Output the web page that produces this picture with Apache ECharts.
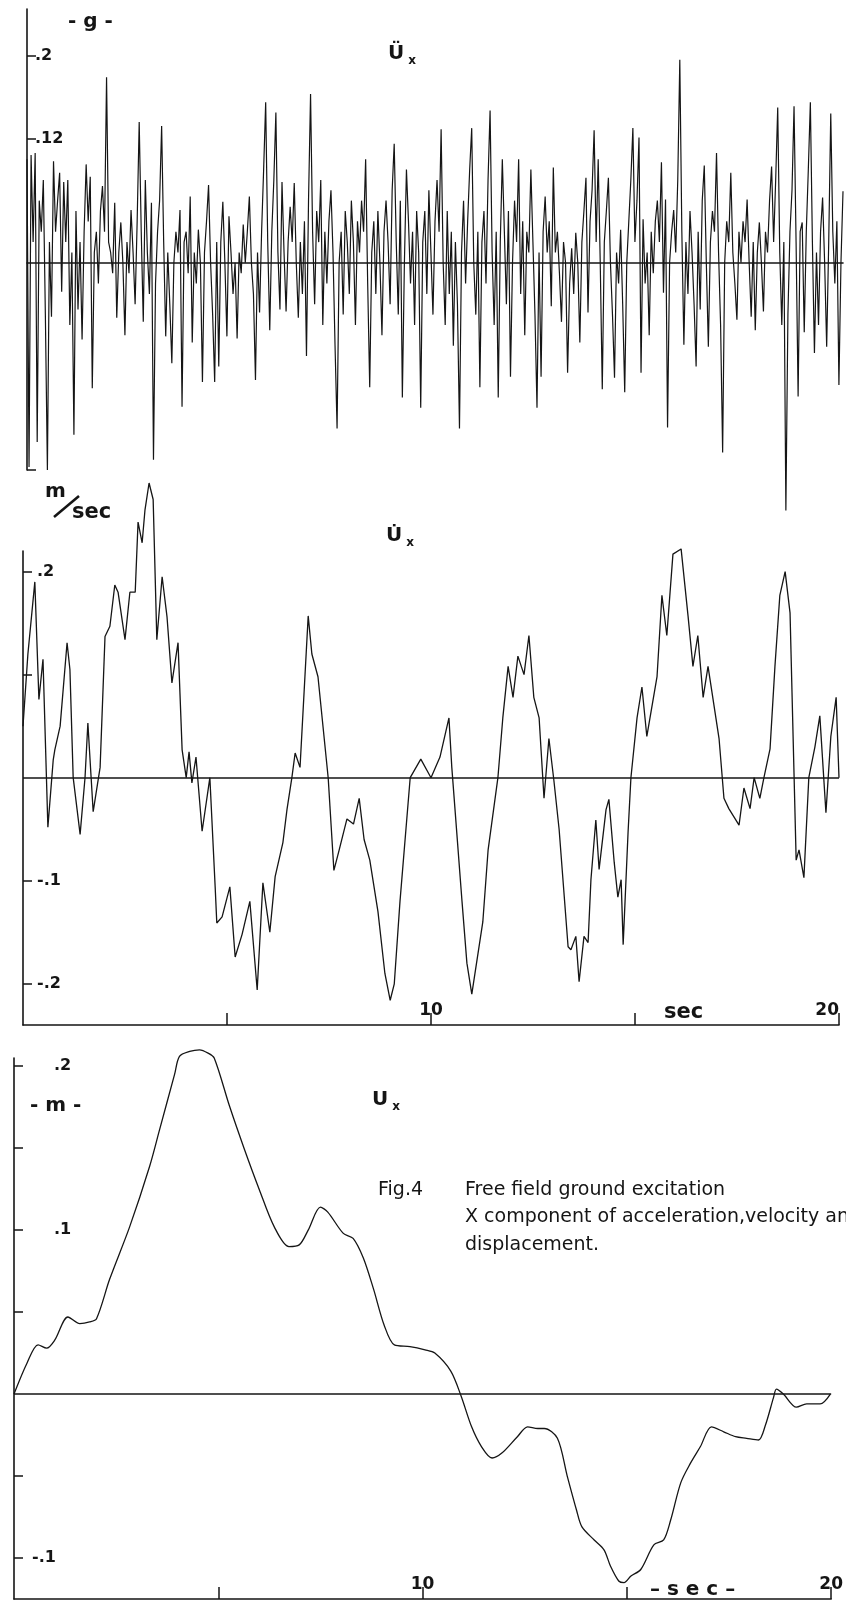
<!DOCTYPE html>
<html>
<head>
<meta charset="utf-8">
<script src="https://cdn.jsdelivr.net/npm/echarts@6/dist/echarts.min.js"></script>
<style>
html, body { margin: 0; padding: 0; background: #fff; }
#main { width: 846px; height: 1610px; }
</style>
</head>
<body>
<div id="main"></div>
<script>
// X acceleration, one value every 0.05 s (g)
var accStep = 0.05;
var accel = [
    0.10,-0.197,0.104,0.02,0.106,-0.173,0.06,0.03,0.08,-0.05,-0.2,0.02,-0.052,0.098,0.03,0.06,0.087,-0.028,0.078,0.02,
    0.08,-0.06,0.01,-0.166,0.05,-0.045,0.02,-0.074,0.03,0.095,0.04,0.083,-0.121,0.01,0.03,-0.02,0.05,0.074,0.03,0.179,
    0.02,0.01,-0.01,0.058,-0.053,0.01,0.039,0.0,-0.07,0.02,-0.01,0.051,0.01,-0.04,0.04,0.136,0.03,-0.057,0.08,0.01,
    -0.03,0.058,-0.19,-0.02,0.03,0.06,0.132,0.02,-0.071,0.01,-0.04,-0.097,0.0,0.03,0.01,0.051,-0.139,0.02,0.03,-0.01,
    0.064,-0.077,0.01,-0.02,0.032,0.0,-0.115,0.01,0.04,0.075,0.0,-0.05,-0.115,0.02,-0.1,0.02,0.059,0.0,-0.071,0.045,
    0.01,-0.03,0.0,-0.073,0.01,-0.01,0.037,0.0,0.03,0.064,0.0,-0.03,-0.113,0.01,-0.048,0.03,0.09,0.155,0.02,-0.065,
    0.03,0.08,0.145,0.01,-0.045,0.078,0.01,-0.047,0.02,0.054,0.02,0.077,0.0,-0.053,0.02,-0.03,0.04,-0.09,0.06,0.163,
    0.03,-0.04,0.05,0.02,0.08,-0.06,0.03,-0.02,0.04,0.07,0.01,-0.08,-0.16,0.0,0.03,-0.05,0.05,0.02,-0.03,0.06,
    0.02,-0.06,0.04,0.01,0.06,0.03,0.10,-0.02,-0.12,0.01,0.04,-0.03,0.05,0.0,-0.07,0.03,0.06,0.02,-0.04,0.07,
    0.115,0.02,-0.05,0.06,-0.13,0.0,0.09,0.04,-0.02,0.03,-0.06,0.05,0.01,-0.14,0.02,0.05,-0.03,0.07,0.01,-0.05,
    0.04,0.08,0.03,0.129,0.0,-0.06,0.05,-0.03,0.03,-0.08,0.02,-0.04,-0.16,0.01,0.06,-0.02,0.04,0.09,0.13,0.0,
    -0.05,0.03,-0.12,0.02,0.05,-0.02,0.08,0.147,0.01,-0.06,0.03,-0.13,0.02,0.10,0.03,-0.04,0.05,-0.11,0.0,0.06,
    0.02,0.10,-0.03,0.04,-0.07,0.03,0.01,0.09,0.02,-0.05,-0.14,0.01,-0.11,0.03,0.064,0.01,0.04,-0.042,0.092,0.01,
    0.03,-0.01,-0.057,0.02,0.0,-0.106,-0.02,0.014,-0.03,0.029,0.0,-0.077,0.02,0.05,0.082,-0.048,0.04,0.07,0.128,0.02,
    0.1,0.0,-0.122,0.02,0.05,0.082,0.0,-0.05,-0.111,0.01,-0.02,0.032,-0.04,-0.125,0.0,0.04,0.08,0.13,0.02,0.06,
    0.121,-0.106,0.042,-0.02,0.01,-0.07,0.03,-0.01,0.04,0.06,0.02,0.097,-0.029,0.061,-0.159,0.0,0.03,0.051,0.01,0.08,
    0.196,0.03,-0.079,0.02,-0.03,0.05,0.01,-0.04,-0.1,0.03,-0.045,0.06,0.094,0.0,-0.081,0.02,0.05,0.03,0.106,0.01,
    -0.06,-0.183,0.0,0.04,0.02,0.087,0.01,-0.02,-0.055,0.03,0.0,0.04,0.02,0.061,0.0,-0.052,0.02,-0.065,0.01,0.039,
    0.0,-0.047,0.03,0.01,0.06,0.093,0.02,0.08,0.15,0.01,-0.06,0.02,-0.239,-0.05,0.03,0.07,0.151,0.02,-0.129,0.03,
    0.039,-0.067,0.03,0.09,0.155,0.02,-0.087,0.01,-0.06,0.03,0.063,0.0,-0.081,0.02,0.144,0.03,-0.02,0.04,-0.118,0.0,
    0.069
];

// X velocity [sec, m/sec]
var velPts = [
    [0,0.05],[0.12,0.12],[0.29,0.19],[0.39,0.076],[0.49,0.115],[0.61,-0.048],[0.74,0.017],[0.78,0.027],
    [0.91,0.05],[1.08,0.131],[1.15,0.105],[1.23,0.0],[1.4,-0.055],[1.52,0.0],[1.59,0.053],[1.67,0.0],
    [1.72,-0.033],[1.89,0.01],[2.01,0.137],[2.13,0.147],[2.25,0.187],[2.33,0.18],[2.5,0.134],[2.62,0.18],
    [2.75,0.18],[2.82,0.248],[2.92,0.228],[2.99,0.26],[3.09,0.286],[3.19,0.27],[3.28,0.134],[3.41,0.195],
    [3.53,0.156],[3.65,0.092],[3.8,0.131],[3.9,0.027],[4.0,0.0],[4.07,0.025],[4.14,-0.005],[4.24,0.02],
    [4.39,-0.052],[4.58,0.0],[4.71,-0.106],[4.75,-0.141],[4.88,-0.135],[5.07,-0.106],[5.2,-0.174],[5.37,-0.152],
    [5.56,-0.12],[5.74,-0.206],[5.88,-0.102],[6.05,-0.15],[6.18,-0.096],[6.37,-0.063],[6.47,-0.031],[6.59,0.0],
    [6.67,0.024],[6.79,0.01],[6.99,0.157],[7.08,0.12],[7.23,0.098],[7.48,0.0],[7.62,-0.09],[7.75,-0.07],
    [7.94,-0.04],[8.1,-0.045],[8.24,-0.02],[8.36,-0.06],[8.5,-0.08],[8.7,-0.13],[8.87,-0.19],[9.0,-0.216],
    [9.1,-0.2],[9.24,-0.12],[9.49,0.0],[9.75,0.018],[10.0,0.0],[10.22,0.02],[10.44,0.058],[10.51,0.01],
    [10.76,-0.12],[10.88,-0.18],[11.0,-0.21],[11.27,-0.14],[11.4,-0.07],[11.64,0.0],[11.76,0.058],[11.89,0.108],
    [12.01,0.078],[12.13,0.118],[12.28,0.1],[12.4,0.138],[12.52,0.078],[12.65,0.058],[12.77,-0.02],[12.89,0.038],
    [13.01,-0.002],[13.14,-0.05],[13.36,-0.164],[13.43,-0.167],[13.55,-0.154],[13.63,-0.198],[13.75,-0.154],[13.85,-0.16],
    [13.92,-0.099],[14.04,-0.041],[14.12,-0.089],[14.29,-0.031],[14.36,-0.021],[14.49,-0.082],[14.58,-0.116],[14.66,-0.099],
    [14.71,-0.162],[14.83,-0.053],[14.9,0.0],[15.05,0.058],[15.17,0.088],[15.29,0.04],[15.54,0.098],[15.66,0.177],
    [15.78,0.138],[15.93,0.217],[16.13,0.222],[16.3,0.157],[16.42,0.108],[16.54,0.138],[16.67,0.078],[16.79,0.108],
    [17.06,0.038],[17.18,-0.02],[17.3,-0.03],[17.55,-0.046],[17.67,-0.01],[17.82,-0.03],[17.92,0.0],[18.06,-0.02],
    [18.16,0.0],[18.31,0.028],[18.43,0.108],[18.55,0.177],[18.68,0.2],[18.8,0.16],[18.9,0.0],[18.95,-0.08],
    [19.02,-0.07],[19.14,-0.097],[19.26,0.0],[19.41,0.03],[19.53,0.06],[19.68,-0.034],[19.8,0.04],[19.93,0.078],
    [20.0,0.0]
];

// X displacement [sec, m]
var dispPts = [
    [0,0],[0.32,0.019],[0.59,0.03],[0.8,0.028],[1.0,0.033],[1.32,0.047],[1.61,0.043],[1.85,0.044],
    [2.02,0.046],[2.34,0.07],[2.83,0.102],[3.32,0.139],[3.56,0.161],[3.93,0.195],[4.05,0.206],[4.3,0.209],
    [4.54,0.21],[4.75,0.208],[4.9,0.205],[5.27,0.176],[5.63,0.15],[6.0,0.125],[6.37,0.102],[6.73,0.09],
    [6.98,0.091],[7.2,0.1],[7.5,0.114],[7.68,0.111],[8.06,0.098],[8.3,0.095],[8.55,0.083],[8.8,0.064],
    [9.06,0.042],[9.31,0.03],[9.69,0.029],[10.06,0.027],[10.3,0.025],[10.69,0.014],[10.94,-0.001],[11.2,-0.02],
    [11.44,-0.032],[11.7,-0.039],[11.94,-0.036],[12.32,-0.026],[12.57,-0.02],[12.82,-0.021],[12.98,-0.021],[13.3,-0.027],
    [13.54,-0.05],[13.77,-0.071],[13.9,-0.081],[14.2,-0.089],[14.44,-0.095],[14.6,-0.105],[14.8,-0.114],[14.93,-0.115],
    [15.1,-0.111],[15.34,-0.107],[15.66,-0.092],[15.9,-0.089],[16.07,-0.077],[16.32,-0.054],[16.56,-0.042],[16.8,-0.032],
    [17.07,-0.02],[17.37,-0.023],[17.66,-0.026],[17.93,-0.027],[18.22,-0.028],[18.39,-0.019],[18.59,-0.002],[18.66,0.003],
    [18.83,0.0],[19.15,-0.008],[19.4,-0.006],[19.73,-0.006],[19.98,0.0]
];

var accTicks = [-0.2, 0.12, 0.2];
var accLabels = [0.12, 0.2];
var velTicks = [-0.2, -0.1, 0.1, 0.2];
var velLabels = [-0.2, -0.1, 0.2];
var dispTicks = [-0.1, -0.05, 0.05, 0.1, 0.15, 0.2];
var dispLabels = [-0.1, 0.1, 0.2];
var secTicks = [5, 10, 15, 20];
var secLabels = [10, 20];

var ink = '#151515';
var face = 'DejaVu Sans';

// .2  -.1  .12 like on the plot
function shortNum(v) {
    var s = String(Math.round(v * 100) / 100);
    return s.replace('0.', '.');
}

function yAxisFor(idx, min, max, ticks, labels, margin, posShift) {
    return {
        type: 'value', gridIndex: idx, min: min, max: max,
        axisLine: {show: true, lineStyle: {color: ink, width: 1.6}},
        axisTick: {show: true, inside: true, length: 9, customValues: ticks, lineStyle: {color: ink, width: 1.5}},
        axisLabel: {
            show: true, inside: true, margin: margin, customValues: labels,
            formatter: function (v) {
                return v > 0 ? '{p|' + shortNum(v) + '}' : '{n|' + shortNum(v) + '}';
            },
            rich: {
                p: {color: ink, fontFamily: face, fontWeight: 'bold', fontSize: 16, padding: [0, 0, 0, posShift]},
                n: {color: ink, fontFamily: face, fontWeight: 'bold', fontSize: 16}
            }
        },
        splitLine: {show: false}
    };
}

function secAxis(idx, alignMax) {
    return {
        type: 'value', gridIndex: idx, min: 0, max: 20,
        axisLine: {onZero: false, lineStyle: {color: ink, width: 1.6}},
        axisTick: {show: true, inside: true, length: 12, customValues: secTicks, lineStyle: {color: ink, width: 1.5}},
        axisLabel: {
            show: true, inside: true, margin: 6, customValues: secLabels,
            alignMaxLabel: alignMax, color: ink, fontFamily: face, fontWeight: 'bold', fontSize: 17
        },
        splitLine: {show: false}
    };
}

var zeroLine = {
    silent: true, symbol: 'none', label: {show: false},
    lineStyle: {color: ink, width: 1.5, type: 'solid'},
    data: [{yAxis: 0}]
};

function subTitle(x, y, letter) {
    return {
        type: 'text', left: x, top: y,
        style: {
            text: '{u|' + letter + '}{s|x}',
            rich: {
                u: {fontFamily: face, fontSize: 20, lineHeight: 26, fill: ink, fontWeight: 'bold'},
                s: {fontFamily: face, fontSize: 12, lineHeight: 12, verticalAlign: 'bottom', padding: [0, 0, 0, 4], fill: ink, fontWeight: 'bold'}
            }
        }
    };
}

function label(x, y, txt, size, weight) {
    return {
        type: 'text', left: x, top: y,
        style: {text: txt, fill: ink, fontFamily: face, fontSize: size, fontWeight: weight || 'normal'}
    };
}

var chart = echarts.init(document.getElementById('main'));
chart.setOption({
    backgroundColor: '#fff',
    animation: false,
    grid: [
        {left: 27, top: 9, width: 816, height: 461},
        {left: 23, top: 551, width: 816, height: 474},
        {left: 14, top: 1058, width: 820, height: 541}
    ],
    xAxis: [
        {
            type: 'value', gridIndex: 0, min: 0, max: 20,
            axisLine: {onZero: true, lineStyle: {color: ink, width: 1.6}},
            axisTick: {show: false}, axisLabel: {show: false}, splitLine: {show: false}
        },
        secAxis(1, 'right'),
        secAxis(2, 'center')
    ],
    yAxis: [
        yAxisFor(0, -0.2, 0.245, accTicks, accLabels, 8, 0),
        yAxisFor(1, -0.24, 0.22, velTicks, velLabels, 14, 0),
        yAxisFor(2, -0.125, 0.205, dispTicks, dispLabels, 18, 22)
    ],
    series: [
        {
            type: 'line', xAxisIndex: 0, yAxisIndex: 0, clip: false,
            showSymbol: false, symbol: 'none',
            lineStyle: {color: ink, width: 1.2},
            data: accel.map(function (v, i) { return [i * accStep, v]; })
        },
        {
            type: 'line', xAxisIndex: 1, yAxisIndex: 1, clip: false,
            showSymbol: false, symbol: 'none',
            lineStyle: {color: ink, width: 1.3},
            data: velPts,
            markLine: zeroLine
        },
        {
            type: 'line', xAxisIndex: 2, yAxisIndex: 2, clip: false,
            showSymbol: false, symbol: 'none', smooth: 0.3,
            lineStyle: {color: ink, width: 1.3},
            data: dispPts,
            markLine: zeroLine
        }
    ],
    graphic: [
        label(68, 12, '- g -', 20, 'bold'),
        subTitle(388, 44, '\u00dc'),
        label(45, 482, 'm', 20, 'bold'),
        {
            type: 'line', silent: true,
            shape: {x1: 54, y1: 517, x2: 79, y2: 496},
            style: {stroke: ink, lineWidth: 2.5}
        },
        label(72, 502, 'sec', 21, 'bold'),
        subTitle(386, 526, 'U\u0307'),
        label(664, 1002, 'sec', 21, 'bold'),
        label(30, 1096, '- m -', 20, 'bold'),
        subTitle(372, 1090, 'U'),
        label(378, 1181, 'Fig.4', 19),
        label(465, 1181, 'Free field ground excitation', 19),
        label(465, 1208, 'X component of acceleration,velocity and', 19),
        label(465, 1236, 'displacement.', 19),
        label(650, 1580, '\u2013 s e c \u2013', 20, 'bold')
    ]
});
</script>
</body>
</html>
